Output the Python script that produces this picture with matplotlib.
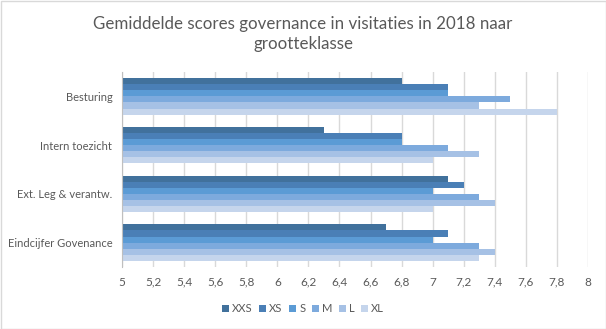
import matplotlib
matplotlib.use("Agg")
import matplotlib.pyplot as plt
from matplotlib.patches import Rectangle
import numpy as np

plt.rcParams['font.family'] = ['Lato', 'DejaVu Sans']

categories = ["Besturing", "Intern toezicht", "Ext. Leg & verantw.", "Eindcijfer Govenance"]
series = ["XXS", "XS", "S", "M", "L", "XL"]
values = {
    "XXS": [6.8, 6.3, 7.1, 6.7],
    "XS":  [7.1, 6.8, 7.2, 7.1],
    "S":   [7.1, 6.8, 7.0, 7.0],
    "M":   [7.5, 7.1, 7.3, 7.3],
    "L":   [7.3, 7.3, 7.4, 7.4],
    "XL":  [7.8, 7.0, 7.0, 7.3],
}
colors = ["#41719C", "#4A7FB6", "#5B9BD5", "#7DAADD", "#A6C1E5", "#C5D5EC"]
xticks = [5, 5.2, 5.4, 5.6, 5.8, 6, 6.2, 6.4, 6.6, 6.8, 7, 7.2, 7.4, 7.6, 7.8, 8]

W, H = 606, 329
fig = plt.figure(figsize=(W / 100, H / 100), dpi=100)
fig.patch.set_facecolor("white")
fig.patches.append(Rectangle((0.5 / W, 0.5 / H), 1 - 1.0 / W, 1 - 1.0 / H,
                             transform=fig.transFigure, fill=False,
                             edgecolor="#D9D9D9", linewidth=1))

# plot area in pixel coordinates
left, right, top, bottom = 122, 588, 72, 267
ax = fig.add_axes([left / W, 1 - bottom / H, (right - left) / W, (bottom - top) / H])

n = len(series)
group = 0.75
bh = group / n
y = np.arange(len(categories))
for i, s in enumerate(series):
    offs = -group / 2 + bh * (i + 0.5)
    ax.barh(y + offs, np.array(values[s]) - 5, left=5, height=bh,
            color=colors[i], label=s, zorder=3, linewidth=0)

ax.set_ylim(len(categories) - 0.5, -0.5)
ax.set_xlim(5, 8)
ax.set_xticks(xticks)
ax.set_xticklabels([f"{t:g}".replace(".", ",") for t in xticks])
ax.set_yticks(y)
ax.set_yticklabels(categories)
ax.grid(axis="x", color="#D9D9D9", linewidth=1, zorder=0)
for sp in ["top", "right", "bottom"]:
    ax.spines[sp].set_visible(False)
ax.spines["left"].set_color("#BFBFBF")
ax.spines["left"].set_zorder(4)
ax.tick_params(axis="both", length=0, labelcolor="#595959")
ax.tick_params(axis="x", pad=7, labelsize=8.5)
ax.tick_params(axis="y", pad=7, labelsize=8.0)

fig.text(0.5, 1 - 34 / H, "Gemiddelde scores governance in visitaties in 2018 naar\ngrootteklasse",
         ha="center", va="center", fontsize=12.2, color="#595959", linespacing=1.35)

leg = fig.legend(loc="center", bbox_to_anchor=(0.5, 1 - 309 / H), ncol=6,
                 frameon=False, fontsize=8.0, handlelength=0.6, handleheight=0.6,
                 handletextpad=0.3, columnspacing=0.6, labelcolor="#595959")

fig.savefig("out.png", dpi=100)
